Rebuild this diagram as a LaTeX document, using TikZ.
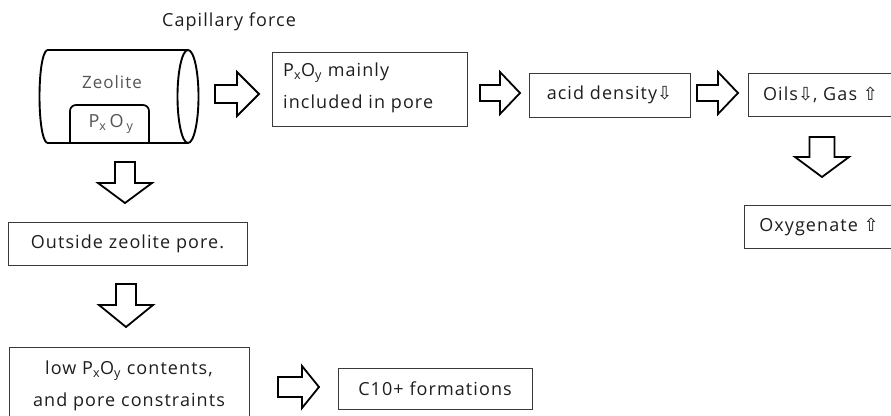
\documentclass[tikz,border=0pt]{standalone}
\usepackage{fontspec}
\setmainfont{Open Sans}[LetterSpace=6]
\newfontfamily\symf{DejaVu Sans}
\definecolor{boxline}{HTML}{3A3A3A}
\definecolor{txt}{HTML}{1E1E1E}
\definecolor{soft}{HTML}{555555}
\tikzset{
  blockarrow/.style={draw=black, line width=1.8pt, fill=white, line join=miter},
  flowbox/.style={draw=boxline, line width=0.9pt, rectangle, inner sep=0pt, text=txt,
     font=\fontsize{18}{31.5}\selectfont},
  cyl/.style={draw=black, line width=1.9pt},
}
\newcommand\rblock[6]{% tail, base, tip, cy, shaft half, head half
  \draw[blockarrow] ({#1},{#4-#5}) -- ({#2},{#4-#5}) -- ({#2},{#4-#6}) -- ({#3},{#4})
    -- ({#2},{#4+#6}) -- ({#2},{#4+#5}) -- ({#1},{#4+#5}) -- cycle;}
\newcommand\dblock[6]{% top, base, tip, cx, shaft half, head half
  \draw[blockarrow] ({#4-#5},{#1}) -- ({#4-#5},{#2}) -- ({#4-#6},{#2}) -- ({#4},{#3})
    -- ({#4+#6},{#2}) -- ({#4+#5},{#2}) -- ({#4+#5},{#1}) -- cycle;}
\newcommand\dn{{\symf\char"21E9}}
\newcommand\up{{\symf\char"21E7}}
\begin{document}
\begin{tikzpicture}[x=1pt,y=-1pt]
\clip (0,0) rectangle (891,415);
\fill[white] (0,0) rectangle (891,415);

% title
\node[text=txt, font=\fontsize{18}{20}\selectfont] (cap) at (229,22) {Capillary force};

% cylinder
\draw[cyl] (47,50) -- (188,50);
\draw[cyl] (47,143) -- (188,143);
\draw[cyl] (47,50) .. controls (37,56) and (37,137) .. (47,143);
\draw[cyl] (188,96.5) ellipse [x radius=10.5, y radius=46.5];
\draw[draw=black, line width=1.7pt, rounded corners=6pt] (70,143) |- (149,105) -- (149,143);
\node[text=soft, font=\fontsize{17}{18}\selectfont] (zeo) at (112,82) {Zeolite};
\node[text=soft, font=\fontsize{18}{18}\selectfont] (pin) at (111,124) {P\textsubscript{x}\,O\,\textsubscript{y}};

% arrows top row
\rblock{215}{237}{259}{94}{9}{22}
\rblock{480}{500}{520}{93}{8}{21}
\rblock{697}{718}{738}{93}{8}{21}
% right column
\dblock{137}{157}{177}{822}{12.5}{27}
% left column
\dblock{162}{183}{203}{125}{10}{27}
\dblock{284}{305}{327}{126}{10}{27}
\rblock{278}{302}{319}{387}{10}{21}

% boxes
\node[flowbox, minimum width=195pt, minimum height=74pt] (b1) at (369.5,89) {};
\node[anchor=west, text=txt, font=\fontsize{18}{31.5}\selectfont, align=left, inner sep=0pt] (b1t) at (283,88)
  {P\textsubscript{x}O\textsubscript{y} mainly\\included in pore};
\node[flowbox, minimum width=161pt, minimum height=44pt] (b2) at (609.5,95) {acid density\dn};
\node[flowbox, minimum width=145pt, minimum height=43pt] (b3) at (820.5,95) {Oils\dn, Gas \up};
\node[flowbox, minimum width=150pt, minimum height=43pt] (b4) at (819,226.5) {Oxygenate \up};
\node[flowbox, minimum width=239pt, minimum height=43pt] (b5) at (127.5,243.5) {Outside zeolite pore.};
\node[flowbox, minimum width=240pt, minimum height=78pt, align=center] (b6) at (129,386)
  {low P\textsubscript{x}O\textsubscript{y} contents,\\and pore constraints};
\node[flowbox, minimum width=194pt, minimum height=41pt] (b7) at (435,388.5) {C10+ formations};
\end{tikzpicture}
\end{document}
